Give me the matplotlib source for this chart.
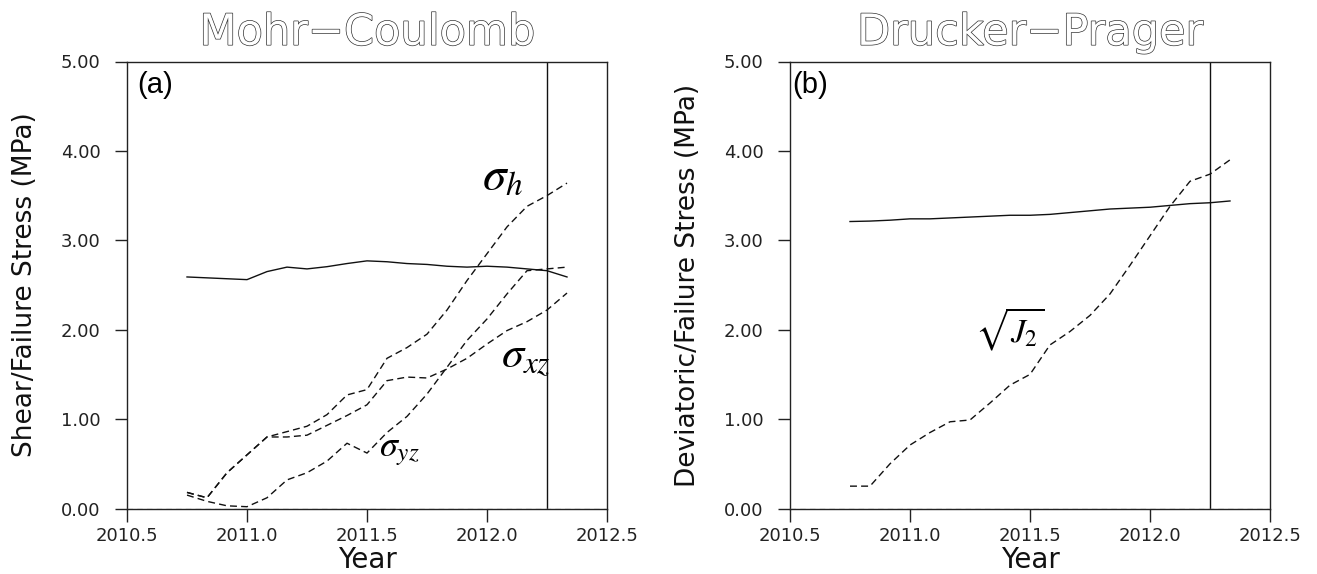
import numpy as np
import matplotlib
matplotlib.use("Agg")
import matplotlib.pyplot as plt
import matplotlib.patheffects as pe

plt.rcParams['mathtext.fontset'] = 'stix'

# ---- data ----
years = [2010.75 + k / 12 for k in range(20)]

mc_failure = [2.59, 2.58, 2.57, 2.56, 2.65, 2.70, 2.68, 2.705, 2.74, 2.77,
              2.76, 2.74, 2.73, 2.71, 2.70, 2.71, 2.70, 2.68, 2.66, 2.59]
sigma_h = [0.18, 0.12, 0.40, 0.60, 0.80, 0.86, 0.92, 1.05, 1.27, 1.33,
           1.68, 1.80, 1.95, 2.22, 2.55, 2.85, 3.15, 3.38, 3.50, 3.64]
sigma_xz = [0.18, 0.12, 0.40, 0.60, 0.80, 0.80, 0.82, 0.93, 1.04, 1.16,
            1.43, 1.47, 1.46, 1.56, 1.68, 1.84, 1.99, 2.09, 2.22, 2.41]
sigma_yz = [0.15, 0.08, 0.03, 0.02, 0.12, 0.32, 0.40, 0.53, 0.73, 0.62,
            0.85, 1.03, 1.28, 1.58, 1.88, 2.12, 2.40, 2.66, 2.68, 2.70]

dp_failure = [3.21, 3.215, 3.225, 3.24, 3.24, 3.25, 3.26, 3.27, 3.28, 3.28,
              3.29, 3.31, 3.33, 3.35, 3.36, 3.37, 3.39, 3.41, 3.42, 3.44]
sqrt_j2 = [0.25, 0.25, 0.50, 0.71, 0.85, 0.97, 0.99, 1.18, 1.38, 1.50,
           1.83, 1.98, 2.16, 2.40, 2.72, 3.05, 3.38, 3.66, 3.74, 3.90]

event_year = 2012.25
xticks = [2010.5, 2011.0, 2011.5, 2012.0, 2012.5]
yticks = [0, 1, 2, 3, 4, 5]
titles = ["Mohr\u2212Coulomb", "Drucker\u2212Prager"]
ylabels = ["Shear/Failure Stress (MPa)", "Deviatoric/Failure Stress (MPa)"]
panel_tags = ["(a)", "(b)"]

# ---- figure ----
W, H = 1317, 574
fig = plt.figure(figsize=(W / 100, H / 100), dpi=100)
ax_w = 480 / W
ax_h = 447 / H
ax_b = (H - 508.5) / H
axA = fig.add_axes([127 / W, ax_b, ax_w, ax_h])
axB = fig.add_axes([790 / W, ax_b, ax_w, ax_h])

dash = (0, (5, 3))
lc = '#111111'

axA.plot(years, mc_failure, color=lc, lw=1.0)
axA.plot(years, sigma_h, color=lc, lw=1.0, ls=dash)
axA.plot(years, sigma_xz, color=lc, lw=1.0, ls=dash)
axA.plot(years, sigma_yz, color=lc, lw=1.0, ls=dash)

axB.plot(years, dp_failure, color=lc, lw=1.0)
axB.plot(years, sqrt_j2, color=lc, lw=1.0, ls=dash)

for i, ax in enumerate([axA, axB]):
    ax.set_xlim(2010.5, 2012.5)
    ax.set_ylim(0, 5)
    ax.axvline(event_year, color=lc, lw=1.0)
    ax.axhline(0, color='#999999', lw=1.0, ls=(0, (4, 3)), zorder=5)
    ax.set_xticks(xticks)
    ax.set_xticklabels([f"{t:.1f}" for t in xticks])
    ax.set_yticks(yticks)
    ax.set_yticklabels([f"{t:.2f}" for t in yticks])
    ax.tick_params(axis='both', direction='out', length=9, width=1.0,
                   colors='#222222', labelsize=13, top=False, right=False)
    ax.tick_params(axis='x', pad=4)
    ax.tick_params(axis='y', pad=10)
    for s in ax.spines.values():
        s.set_color('#222222')
        s.set_linewidth(1.0)
    ax.set_xlabel("Year", fontsize=20, labelpad=1, color='#111111')
    ax.set_ylabel(ylabels[i], fontsize=19, color='#111111')
    ax.yaxis.set_label_coords(-0.185, 0.5)
    ax.set_title(titles[i], fontsize=31, pad=12, color='white',
                 path_effects=[pe.Stroke(linewidth=1.0, foreground='#333333'),
                               pe.Normal()])
    ax.text(0.022 if i == 0 else 0.004, 0.947, panel_tags[i], transform=ax.transAxes,
            fontsize=21, family='Liberation Sans', va='center', ha='left')

# annotations
axA.text(2011.98, 3.72, r'$\sigma_h$', fontsize=34, ha='left', va='center')
axA.text(2012.06, 1.70, r'$\sigma_{xz}$', fontsize=32, ha='left', va='center')
axA.text(2011.55, 0.64, r'$\sigma_{yz}$', fontsize=26, ha='left', va='center')
axB.text(2011.27, 2.00, r'$\sqrt{J_2}$', fontsize=24, ha='left', va='center')

fig.savefig("out.png", dpi=100)
